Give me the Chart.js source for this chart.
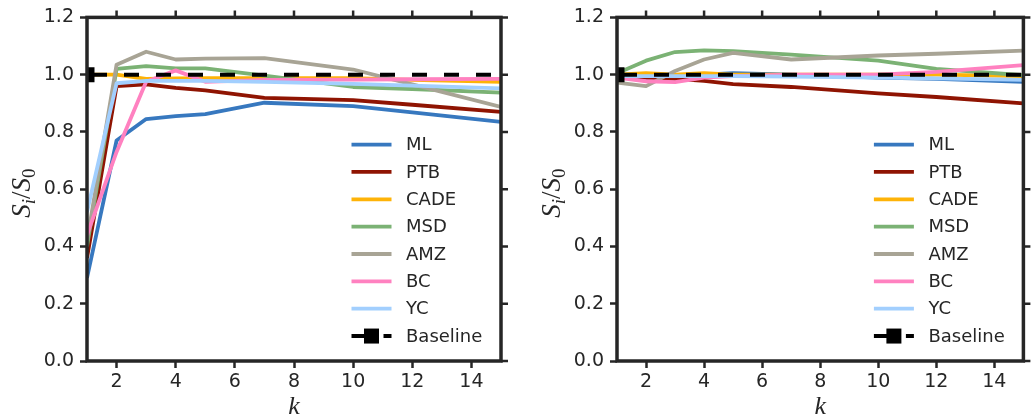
<!DOCTYPE html>
<html>
<head>
<meta charset="utf-8">
<script src="https://cdn.jsdelivr.net/npm/chart.js@4/dist/chart.umd.min.js"></script>
<style>
  body { margin: 0; background: #fff; }
  #wrap { position: relative; width: 1034px; height: 417px; overflow: hidden; }
  .panel { position: absolute; top: 0; width: 517px; height: 417px; }
</style>
</head>
<body>
<div id="wrap">
  <div class="panel" style="left:0"><canvas id="left" width="517" height="417"></canvas></div>
  <div class="panel" style="left:517px"><canvas id="right" width="517" height="417"></canvas></div>
</div>
<script>
// k values at which every run was measured
const kValues = [1, 2, 3, 4, 5, 7, 10, 12, 15];
const xTicks = [2, 4, 6, 8, 10, 12, 14];
const yTicks = [0, 0.2, 0.4, 0.6, 0.8, 1.0, 1.2];

const seriesNames = ['ML', 'PTB', 'CADE', 'MSD', 'AMZ', 'BC', 'YC'];
const seriesColors = ['#3778bf', '#8f1402', '#feb308', '#7bb274', '#a8a495', '#ff81c0', '#a2cffe'];

// left panel
const leftML   = [0.29, 0.77, 0.845, 0.855, 0.862, 0.902, 0.890, 0.868, 0.835];
const leftPTB  = [0.36, 0.960, 0.966, 0.954, 0.945, 0.919, 0.911, 0.895, 0.870];
const leftCADE = [1.00, 1.000, 0.985, 0.987, 0.988, 0.988, 0.988, 0.982, 0.975];
const leftMSD  = [0.40, 1.020, 1.030, 1.022, 1.022, 0.997, 0.957, 0.950, 0.937];
const leftAMZ  = [0.42, 1.035, 1.080, 1.053, 1.056, 1.058, 1.018, 0.966, 0.887];
const leftBC   = [0.44, 0.730, 0.975, 1.015, 0.975, 0.982, 0.983, 0.984, 0.985];
const leftYC   = [0.52, 0.970, 0.978, 0.978, 0.978, 0.975, 0.968, 0.962, 0.952];

// right panel
const rightML   = [1.000, 0.990, 0.995, 1.000, 1.005, 1.000, 0.990, 0.985, 0.975];
const rightPTB  = [1.000, 0.990, 0.985, 0.978, 0.967, 0.957, 0.935, 0.922, 0.900];
const rightCADE = [1.000, 1.005, 1.000, 1.005, 1.000, 1.000, 1.000, 1.000, 0.995];
const rightMSD  = [1.005, 1.049, 1.079, 1.085, 1.082, 1.070, 1.049, 1.020, 0.998];
const rightAMZ  = [0.972, 0.960, 1.013, 1.053, 1.076, 1.053, 1.067, 1.073, 1.084];
const rightBC   = [0.990, 0.977, 0.974, 0.990, 0.995, 1.000, 1.000, 1.010, 1.033];
const rightYC   = [0.995, 0.995, 0.995, 0.995, 0.995, 0.993, 0.990, 0.987, 0.982];

const baseline = [1, 1, 1, 1, 1, 1, 1, 1, 1];

const INK = '#262626';

// top / right ticks and the full box around the plot
const framePlugin = {
  id: 'frame',
  afterDatasetsDraw(chart) {
    const { ctx, chartArea: a, scales: { x, y } } = chart;
    ctx.save();
    ctx.strokeStyle = INK;
    ctx.lineWidth = 2.5;
    ctx.beginPath();
    xTicks.forEach(v => {
      const px = x.getPixelForValue(v);
      ctx.moveTo(px, a.top);
      ctx.lineTo(px, a.top - 7);
    });
    yTicks.forEach(v => {
      const py = y.getPixelForValue(v);
      ctx.moveTo(a.right, py);
      ctx.lineTo(a.right + 7, py);
    });
    ctx.stroke();
    ctx.lineWidth = 3.5;
    ctx.strokeRect(a.left, a.top, a.right - a.left, a.bottom - a.top);
    ctx.restore();
  }
};

// legend in the lower right corner, no box
const legendPlugin = {
  id: 'cornerLegend',
  afterDraw(chart) {
    const { ctx, chartArea: a } = chart;
    const x0 = a.right - 149.5;
    const y0 = a.top + 127.2;
    const step = 27.35;
    chart.data.datasets.forEach((ds, i) => {
      const cy = y0 + i * step;
      ctx.save();
      ctx.strokeStyle = ds.borderColor;
      ctx.lineWidth = ds.borderWidth;
      ctx.setLineDash(ds.borderDash || []);
      ctx.beginPath();
      ctx.moveTo(x0, cy);
      ctx.lineTo(x0 + 40, cy);
      ctx.stroke();
      if (ds.legendMarker) {
        ctx.fillStyle = '#000';
        ctx.fillRect(x0 + 20 - 7.5, cy - 7.5, 15, 15);
      }
      ctx.fillStyle = INK;
      ctx.font = '18px "DejaVu Sans"';
      ctx.textBaseline = 'middle';
      ctx.fillText(ds.label, x0 + 54.5, cy + 1);
      ctx.restore();
    });
  }
};

// math-style axis titles: k and S_i/S_0
const titlePlugin = {
  id: 'mathTitles',
  afterDraw(chart) {
    const { ctx, chartArea: a } = chart;
    ctx.save();
    ctx.fillStyle = INK;
    ctx.textBaseline = 'alphabetic';
    ctx.textAlign = 'center';
    ctx.font = 'italic 26px "Liberation Serif"';
    ctx.fillText('k', (a.left + a.right) / 2, 414);

    const parts = [
      { t: 'S', f: 'italic 27px "Liberation Serif"', dy: 0 },
      { t: 'i', f: 'italic 19px "Liberation Serif"', dy: 5 },
      { t: '/', f: '27px "Liberation Serif"', dy: 0 },
      { t: 'S', f: 'italic 27px "Liberation Serif"', dy: 0 },
      { t: '0', f: '19px "Liberation Serif"', dy: 5 }
    ];
    let total = 0;
    parts.forEach(p => { ctx.font = p.f; p.w = ctx.measureText(p.t).width; total += p.w; });
    ctx.translate(a.left - 66, (a.top + a.bottom) / 2 + 4);
    ctx.rotate(-Math.PI / 2);
    ctx.textAlign = 'left';
    let cx = -total / 2;
    parts.forEach(p => {
      ctx.font = p.f;
      ctx.fillText(p.t, cx, 9 + p.dy);
      cx += p.w;
    });
    ctx.restore();
  }
};

function buildDatasets(series) {
  const sets = series.map((vals, i) => ({
    label: seriesNames[i],
    data: kValues.map((k, j) => ({ x: k, y: vals[j] })),
    borderColor: seriesColors[i],
    backgroundColor: seriesColors[i],
    borderWidth: 3.8,
    borderJoinStyle: 'round',
    pointRadius: 0,
    tension: 0
  }));
  sets.push({
    label: 'Baseline',
    data: kValues.map((k, j) => ({ x: k, y: baseline[j] })),
    borderColor: '#000',
    backgroundColor: '#000',
    borderWidth: 4,
    borderDash: [15, 17],
    borderDashOffset: 27,
    borderCapStyle: 'butt',
    pointStyle: 'rect',
    pointRadius: ctx => (ctx.dataIndex === 0 ? 10.6 : 0),
    pointBorderWidth: 0,
    legendMarker: true,
    clip: 0
  });
  // later series sit on top
  sets.forEach((s, i) => { s.order = sets.length - i; });
  return sets;
}

function makeChart(id, series, yWidth, padRight) {
  return new Chart(document.getElementById(id), {
    type: 'line',
    data: { datasets: buildDatasets(series) },
    options: {
      responsive: false,
      animation: false,
      devicePixelRatio: 1,
      events: [],
      layout: { padding: { left: 0, right: padRight, top: 15.5, bottom: 0 } },
      plugins: { legend: { display: false }, tooltip: { enabled: false } },
      scales: {
        x: {
          type: 'linear',
          min: 1,
          max: 15,
          afterBuildTicks: s => { s.ticks = xTicks.map(v => ({ value: v })); },
          afterFit: s => { s.height = 56; },
          border: { display: false },
          grid: { drawOnChartArea: false, tickLength: 7, tickWidth: 2.5, tickColor: INK },
          ticks: { color: INK, font: { family: 'DejaVu Sans', size: 19 }, padding: 3, maxRotation: 0, autoSkip: false }
        },
        y: {
          min: 0,
          max: 1.2,
          afterBuildTicks: s => { s.ticks = yTicks.map(v => ({ value: v })); },
          afterFit: s => { s.width = yWidth; },
          border: { display: false },
          grid: { drawOnChartArea: false, tickLength: 7, tickWidth: 2.5, tickColor: INK },
          ticks: { color: INK, font: { family: 'DejaVu Sans', size: 19 }, padding: 6, callback: v => v.toFixed(1) }
        }
      }
    },
    plugins: [framePlugin, legendPlugin, titlePlugin]
  });
}

makeChart('left', [leftML, leftPTB, leftCADE, leftMSD, leftAMZ, leftBC, leftYC], 87, 16);
makeChart('right', [rightML, rightPTB, rightCADE, rightMSD, rightAMZ, rightBC, rightYC], 100, 3);
</script>
</body>
</html>
